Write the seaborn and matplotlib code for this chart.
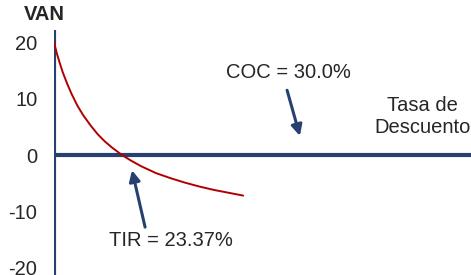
import pandas as pd
import seaborn as sns
import matplotlib
matplotlib.use("Agg")
import matplotlib.pyplot as plt

sns.set_style("white")
plt.rcParams['font.family'] = ['Liberation Sans', 'DejaVu Sans']

# tasa de descuento (%) y VAN
tasa = [0, 1, 2, 3, 4.5, 6, 8, 10, 12.5, 15, 17.5, 20, 23.37, 26.5, 30, 35, 40, 45, 50, 55, 60, 65]
van = [20.0, 18.0, 16.3, 14.7, 12.7, 10.9, 8.8, 7.1, 5.3, 3.7, 2.4, 1.3, 0, -1.0, -2.0, -3.2,
       -4.1, -4.9, -5.6, -6.2, -6.7, -7.2]

tir = 23.37
coc = 30.0
yticks = [20, 10, 0, -10, -20]

df = pd.DataFrame({'Tasa': tasa, 'VAN': van})

navy = '#26416f'
red = '#b00000'
fs = 14.5

fig = plt.figure(figsize=(4.71, 2.75), dpi=100)
ax = fig.add_axes([54 / 471, 0, 417 / 471, 245 / 275])

sns.lineplot(data=df, x='Tasa', y='VAN', color=red, lw=1.4, ax=ax)

ax.axhline(0, color=navy, lw=3, zorder=1)
ax.axvline(0, color=navy, lw=3, zorder=1)

ax.set_xlim(0, 143.3)
ax.set_ylim(-21.3, 22.2)
ax.set_yticks(yticks)
ax.set_yticklabels([str(t) for t in yticks], fontsize=fs)
ax.tick_params(axis='y', length=0, pad=12)
ax.set_xticks([])
ax.set_xlabel('')
ax.set_ylabel('')
for s in ax.spines.values():
    s.set_visible(False)

fig.text(44 / 471, 1 - 15 / 275, 'VAN', fontsize=fs, fontweight='bold',
         ha='center', va='center')

arrow = dict(arrowstyle='-|>', color=navy, lw=2.2, mutation_scale=16,
             shrinkA=0, shrinkB=0)
ax.text(80.4, 14.7, f'COC = {coc:.1f}%', fontsize=fs, ha='center', va='center')
ax.annotate('', xy=(84.5, 3.4), xytext=(80.1, 11.5), arrowprops=arrow)
ax.text(40.2, -15.1, f'TIR = {tir:.2f}%', fontsize=fs, ha='center', va='center')
ax.annotate('', xy=(26.8, -2.7), xytext=(31.3, -12.8), arrowprops=arrow)

ax.text(1.0, 6.9, 'Tasa de\nDescuento', transform=ax.get_yaxis_transform(),
        fontsize=fs, ha='right', va='center', multialignment='center',
        linespacing=1.2)

fig.savefig('out.png', dpi=100)
